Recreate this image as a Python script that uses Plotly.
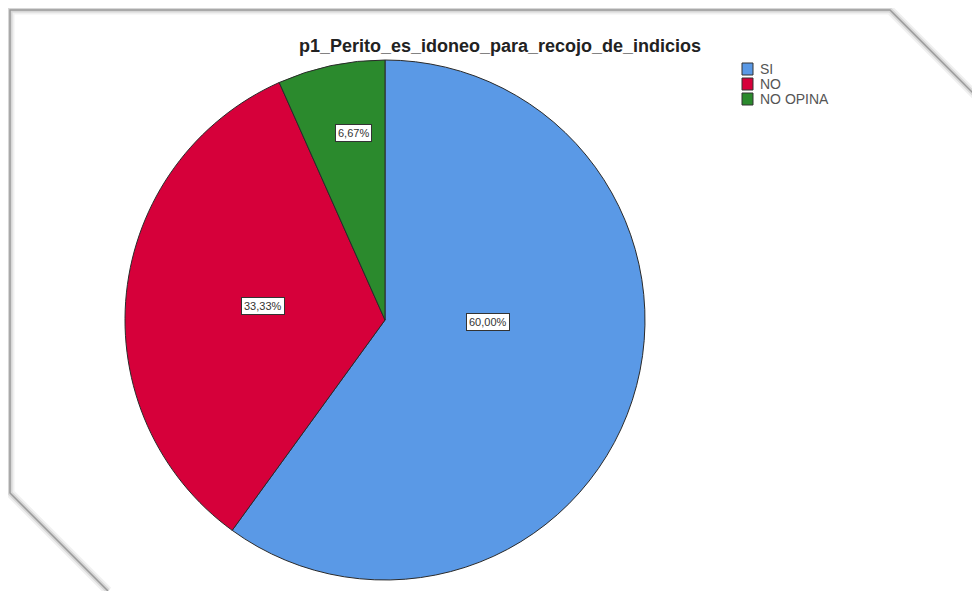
import plotly.graph_objects as go

# ---- data ----
categories = ["SI", "NO", "NO OPINA"]
percentages = [60.00, 33.33, 6.67]
value_labels = ["60,00%", "33,33%", "6,67%"]
title_text = "p1_Perito_es_idoneo_para_recojo_de_indicios"

# ---- styling / layout ----
colors = ["#5A99E6", "#D6003A", "#2B8A2D"]
OFF = 8  # page body margin
W, H = 980 - OFF, 591 - OFF

def px(x):
    return (x - OFF) / W

def py(y):
    return 1 - (y - OFF) / H

# label anchor positions (screen pixels) for the boxed value labels
label_pos = [(488, 322), (241, 306), (353, 124)]

fig = go.Figure()
fig.add_trace(go.Pie(
    labels=categories,
    values=percentages,
    sort=False,
    direction="clockwise",
    rotation=0,
    marker=dict(colors=colors, line=dict(color="#2a2a2a", width=1)),
    textinfo="none",
    hoverinfo="label+percent",
    domain=dict(x=[px(125), px(645)], y=[py(580), py(60)]),
    showlegend=False,
))

font_family = "Liberation Sans, Arial"
annotations = []
for (lx, ly), txt in zip(label_pos, value_labels):
    annotations.append(dict(
        x=px(lx), y=py(ly), xref="paper", yref="paper",
        text=txt, showarrow=False,
        font=dict(family=font_family, size=11, color="#333333"),
        bgcolor="white", bordercolor="#333333", borderwidth=1, borderpad=2,
    ))

# decorative frame with cut corners
frame_path = (f"M {px(108)} {py(591)} L {px(10)} {py(493)} L {px(10)} {py(10)} "
              f"L {px(890)} {py(10)} L {px(980)} {py(100)}")
shapes = [
    dict(type="path", xref="paper", yref="paper", path=frame_path,
         line=dict(color="rgba(0,0,0,0.06)", width=9), layer="below"),
    dict(type="path", xref="paper", yref="paper", path=frame_path,
         line=dict(color="rgba(0,0,0,0.10)", width=5), layer="below"),
    dict(type="path", xref="paper", yref="paper", path=frame_path,
         line=dict(color="#9a9a9a", width=1.5), layer="below"),
]

# custom compact legend
leg_x, leg_y0, leg_dy = 742, 69, 15
for i, (cat, col) in enumerate(zip(categories, colors)):
    cy = leg_y0 + i * leg_dy
    shapes.append(dict(
        type="rect", xref="paper", yref="paper",
        x0=px(leg_x), x1=px(leg_x + 11), y0=py(cy + 6), y1=py(cy - 6),
        fillcolor=col, line=dict(color="#333333", width=1),
    ))
    annotations.append(dict(
        x=px(leg_x + 16), y=py(cy), xref="paper", yref="paper",
        xanchor="left", yanchor="middle", text=cat, showarrow=False,
        font=dict(family=font_family, size=14, color="#555555"),
    ))

fig.update_layout(
    width=W, height=H,
    margin=dict(l=0, r=0, t=0, b=0),
    paper_bgcolor="white",
    plot_bgcolor="white",
    title=dict(
        text="<b>" + title_text + "</b>",
        x=px(500), xanchor="center", xref="paper",
        y=py(46), yanchor="middle", yref="paper",
        font=dict(family=font_family, size=18, color="#222222"),
    ),
    annotations=annotations,
    shapes=shapes,
    showlegend=False,
)

fig.write_html("out.html")
